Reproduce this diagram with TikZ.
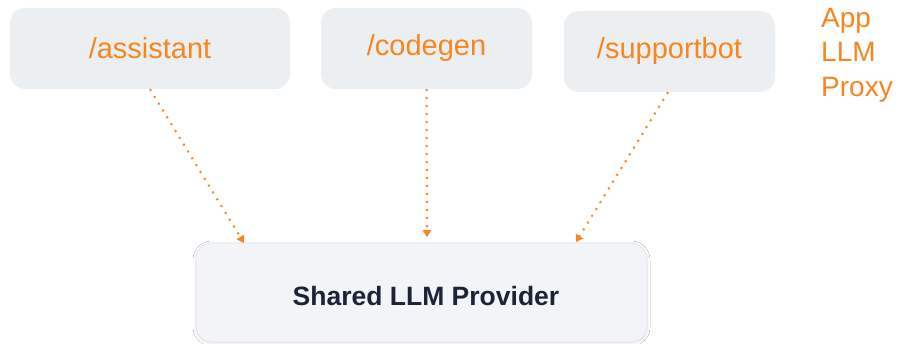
\documentclass[tikz,border=0pt]{standalone}
\usepackage{fontspec}
\setmainfont{Liberation Sans}
\usetikzlibrary{arrows.meta,shadows.blur}
\definecolor{orng}{HTML}{F7861E}
\definecolor{boxfill}{HTML}{ECEFF2}
\definecolor{provfill}{HTML}{F2F4F7}
\definecolor{provline}{HTML}{E2E5E9}
\definecolor{navy}{HTML}{1B2338}
\tikzset{
  route/.style={fill=boxfill, draw=none, rounded corners=15pt, text=orng,
    font=\fontsize{29}{34}\selectfont, inner sep=0pt},
  provider/.style={fill=provfill, draw=provline, line width=0.7pt, rounded corners=16pt,
    text=navy, font=\fontsize{26.5}{30}\selectfont\bfseries, inner sep=0pt,
    blur shadow={shadow xshift=0pt, shadow yshift=-1pt, shadow blur radius=3pt, shadow opacity=12}},
  link/.style={draw=orng, line width=2pt, dash pattern=on 2pt off 6pt,
    -{Triangle[length=7pt,width=8.5pt]}}
}
\begin{document}
\begin{tikzpicture}[x=1pt,y=-1pt]
\useasboundingbox[fill=white] (0,0) rectangle (898,344);
\node[route, minimum width=280pt, minimum height=81pt] (a) at (150,48.5) {/assistant};
\node[route, minimum width=211pt, minimum height=81pt] (c) at (426.5,48.5) {/codegen};
\node[route, minimum width=211pt, minimum height=81pt] (s) at (669.5,51.5) {/supportbot};
\node[provider, minimum width=451pt, minimum height=99pt] (p) at (421.5,292.5)
  {\raisebox{-13.5pt}[0pt][0pt]{\makebox[0pt]{\hspace{9pt}Shared LLM Provider}}};
\node[text=orng, font=\fontsize{28}{34.5}\selectfont, align=left, anchor=west, inner sep=0pt] (lbl) at (821,55) {App\\LLM\\Proxy};
\coordinate (e1) at (244,243);
\coordinate (e2) at (427,237);
\coordinate (e3) at (576,242);
\draw[link] (a.south) -- (e1);
\draw[link] (c.south) -- (e2);
\draw[link] ([xshift=-1.5pt]s.south) -- (e3);
\end{tikzpicture}
\end{document}
